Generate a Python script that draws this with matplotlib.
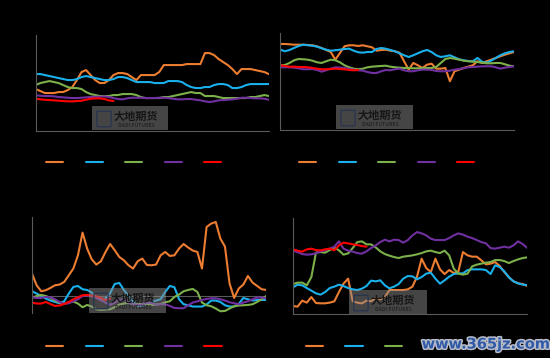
import matplotlib
matplotlib.use("Agg")
import matplotlib.pyplot as plt
import matplotlib.patheffects as pe
from matplotlib.patches import Rectangle, FancyBboxPatch

plt.rcParams['font.family'] = ['Noto Sans CJK SC', 'DejaVu Sans']

years = ["2019", "2020", "2021", "2022", "2023"]
colors = ["#ED7D31", "#1AB0EC", "#7CB04A", "#7030A0", "#FF0000"]
weeks = list(range(1, 53))

# panel 1 (top left)
p1_2019 = [42, 40, 38, 38, 38, 39, 39, 41, 44, 51, 59, 61, 56, 51, 48, 48, 51, 56, 58, 58,
           57, 54, 51, 56, 56, 56, 56, 59, 66, 66, 66, 66, 66, 67, 67, 67, 67, 78, 78, 76,
           72, 69, 66, 62, 57, 62, 62, 62, 61, 60, 59, 57]
p1_2020 = [57, 57, 56, 55, 54, 53, 52, 51, 51, 52, 54, 55, 54, 53, 52, 51, 51, 52, 54, 54,
           53, 51, 49, 49, 49, 49, 48, 48, 48, 50, 50, 50, 49, 46, 44, 43, 43, 44, 44, 46,
           47, 47, 46, 43, 43, 44, 46, 47, 47, 47, 47, 47]
p1_2021 = [46, 48, 49, 50, 49, 48, 46, 44, 43, 43, 42, 39, 37, 36, 35, 35, 35, 36, 36, 37,
           37, 37, 36, 34, 33, 33, 33, 33, 34, 34, 35, 36, 37, 38, 39, 38, 38, 35, 35, 35,
           34, 33, 33, 33, 33, 33, 33, 34, 34, 35, 36, 35]
p1_2022 = [35.7, 35.3, 35, 35, 34.7, 34, 33.7, 33.3, 33, 33, 33.3, 33.7, 34, 34.3, 34.3,
           34.7, 34, 33, 32, 31.7, 32.7, 33.3, 33.3, 33.3, 33, 33, 33, 33.3, 33.3, 33, 32.3,
           31.7, 31.7, 32, 32, 31.3, 30.7, 29.7, 29, 29.7, 30.7, 31, 31.3, 31.7, 32.3, 33.3,
           33.3, 33, 32.7, 32.7, 32.3, 31.3]
p1_2023 = [32.3, 31.7, 31.3, 31, 30.7, 30.3, 30, 29.7, 29.7, 30, 30.3, 31.3, 32.3, 32.7,
           32.7, 32, 30.7, 30]

# panel 2 (top right)
p2_2019 = [86, 86, 85.7, 85.3, 85.3, 85.3, 85, 84.7, 83.7, 82, 80, 78, 70.3, 77, 83.7, 84.7,
           84.7, 84, 84.7, 83.7, 82.7, 79.3, 80, 80.3, 79.3, 78.7, 77.3, 68.7, 60.3, 67, 64.7,
           62, 65.3, 66.3, 61.3, 61.3, 62, 48.7, 58.7, 60.3, 62, 63.3, 64.7, 68.7, 67, 68.7,
           70.3, 72, 73.7, 75.3, 76.7, 78]
p2_2020 = [80.3, 78.7, 80, 82, 84, 85.3, 84.7, 84.3, 83.3, 81.7, 80.3, 79.3, 79.7, 80.3, 81,
           81.3, 79.3, 77.7, 77.3, 78, 78, 81, 82, 81.3, 80, 78.7, 76.7, 74.7, 73, 74.7, 76.7,
           78.7, 80, 78, 74.7, 73, 73.7, 74.7, 72.7, 70.7, 69.7, 69, 68.7, 72, 68.3, 67.3,
           69.3, 72, 74.7, 76.7, 78, 78.7]
p2_2021 = [64.7, 65, 67, 69.7, 71, 70.7, 70.3, 69.3, 67.7, 67, 68.7, 70.3, 69.7, 67.7, 64.7,
           62.7, 61.3, 60.7, 61.3, 62.7, 63.3, 63.7, 64, 64.3, 63.3, 62.7, 62.3, 62, 62, 61.7,
           61.7, 62, 62, 62, 63, 67, 71, 72, 71.3, 70.3, 69.3, 68.7, 68.3, 68, 67.3, 66.7,
           66.7, 67, 67, 65.7, 64.3, 63.7]
p2_2022 = [62.7, 62.7, 62.7, 62.3, 61.7, 60.7, 60.7, 61, 60, 58.3, 59.7, 61.3, 62.7, 62.3, 62,
           61, 60.3, 59.7, 59.3, 58, 57, 57, 58.7, 60, 59.7, 60.7, 61.3, 59.7, 58.7, 58.7,
           59.7, 60.3, 60.3, 60, 59, 58.7, 58.7, 59.3, 60.3, 61, 61.7, 62.7, 63, 63.3, 63.7,
           63.7, 63.7, 62.7, 61.3, 62.3, 63, 63.7]
p2_2023 = [64.7, 64, 63.3, 63.3, 63, 63, 62.7, 62, 61.3, 60.7, 60.7, 61, 61.3, 61, 60.7, 60,
           59.7, 60]

# panel 3 (bottom left)
p3_2019 = [22.7, 11, 5, 6, 8.3, 11, 11.7, 14.3, 21, 27.7, 41, 63.7, 47.7, 37, 31.7, 35, 44.3,
           52.3, 46, 39.3, 36, 31, 27.7, 35, 37.7, 31.3, 31, 31.7, 41, 44.3, 40.3, 41, 47.7,
           52.3, 48.7, 45.7, 44.3, 27.7, 69.3, 72.7, 74.3, 57.7, 49.7, 12.7, -1.7, 7.7, 11.7,
           20.3, 13.7, 10.3, 7, 6.3]
p3_2020 = [5, 2.7, 0.3, -2.3, -4.3, -5.7, -7, -5, 2.7, 9.3, 10.3, 7, 6.3, 3.7, -1, -3, -2.3,
           3, 12.3, 13.3, 6.3, 0.3, -5.7, -9.7, -9.7, -7.7, -6, -4.3, -3, 4.3, 10.3, 9, -3,
           -8, -9, -10.3, -10.3, -10.3, -8.3, -4.3, -4.3, -5.7, -9, -10.3, -10.3, -7.7, -1.7,
           -3, -4.3, -3.7, -3.7, -3.7]
p3_2021 = [-1.7, 0.3, 1.3, 0.3, -1.7, -4.3, -6.3, -7.3, -6.3, -5.3, -7.3, -11, -8.7, -10.3,
           -13, -13.7, -13.3, -13, -11, -8.3, -7.3, -6.3, -8.3, -8, -7.3, -8, -8.7, -8.3,
           -7.7, -6, -5, -0.7, 1.7, 5, 6.3, 7.3, 4.3, -6.3, -9, -10, -12.3, -15, -14.7, -12.3,
           -10, -9.3, -9, -8.7, -8, -5.7, -3, 0.3]
p3_2022 = [-1, -1.7, -1.7, -0.7, -1, -3, -5.7, -7.7, -7, -5, -3, 0.3, 1, 0, -1.7, -4, -6.3,
           -8.7, -6.3, -3.7, -3, -6.3, -8, -8.7, -8.3, -6.3, -6.7, -8.3, -8, -8, -9.7, -11.7,
           -12, -12, -9, -6.3, -5, -3.7, -2.7, -2, -2, -3, -4.3, -6, -7, -8, -6.3, -5, -3,
           -1.3, -1.3, -2]
p3_2023 = [-6.3, -7.3, -7.3, -5.7, -7.7, -9.7, -9.3, -7.7, -5.7, -3, -1, 1, 1.3, 0.7, 0,
           -1.7, -3.7, -2.3]

# panel 4 (bottom right)
p4_2019 = [8.3, 7.7, 13.7, 11.7, 17.3, 11.3, 11, 11, 11.7, 13, 22.3, 30.7, 35.7, 13, 11.7, 11,
           13.7, 13, 16.3, 15, 17.3, 24.3, 24.3, 24.3, 24.3, 25, 27.7, 37.7, 55.7, 46.3, 42.3,
           55.7, 45, 40.3, 44.3, 41.3, 43, 62.3, 59, 57.7, 57.7, 54, 50, 50.7, 52.3, 48.3,
           42.3, 37, 33, 31, 30.3, 28.3]
p4_2020 = [27, 29.7, 29, 26.3, 23.7, 21, 19.7, 22.3, 26.3, 27.7, 29.7, 28.3, 26.3, 25, 24.3,
           25.7, 28.3, 33.7, 33, 34, 29, 26, 27.7, 30.3, 35.7, 38.3, 38, 35, 37.3, 40.7, 41.7,
           35.7, 30.7, 34, 37.7, 40.3, 41, 41, 44.3, 45, 45, 45, 44.3, 40.3, 49, 47.3, 43, 37,
           33, 31, 29.7, 29.3]
p4_2021 = [30.3, 31.7, 31.7, 29, 37.3, 61.7, 62.3, 61.7, 64.3, 67, 64, 59.7, 61, 66.3, 72.3,
           73, 70, 70, 67, 63, 60.3, 58.7, 57.3, 56.3, 57.7, 58.3, 59, 60, 61.3, 63, 63.7,
           62.3, 61.3, 63.7, 59, 45.7, 40.7, 39.7, 40.7, 48, 49.7, 50.7, 51.7, 52.3, 54.3,
           54.3, 53.3, 51.3, 53.3, 55, 56.3, 57]
p4_2022 = [63.7, 62.3, 60.3, 59.7, 60, 61, 63, 64.3, 65.7, 67.7, 73, 65.7, 63.7, 62.7, 61.3,
           60.7, 63, 66.3, 69, 72.3, 74.7, 73, 74.7, 74.3, 71.7, 74.3, 79, 82.3, 81, 79, 75.7,
           74.3, 74.3, 74.3, 76.3, 79, 81, 79.7, 77.7, 76.3, 74.3, 72.3, 71, 66.3, 65.7, 66.7,
           67.7, 66.7, 69, 73, 70.3, 66.3]
p4_2023 = [65, 63.7, 62.7, 65, 65.7, 64.3, 64, 65, 65.7, 64, 69, 71.7, 71, 70, 69.3, 68.3,
           67.7]

panels = [
    # series, axes rect, ylim, legend anchor, logo box (px)
    ([p1_2019, p1_2020, p1_2021, p1_2022, p1_2023], [0.065, 0.634, 0.424, 0.268],
     (0, 96), (0.044, -0.323), (92, 106, 76, 24)),
    ([p2_2019, p2_2020, p2_2021, p2_2022, p2_2023], [0.5097, 0.637, 0.425, 0.270],
     (0, 96.7), (0.08, -0.331), (336, 105, 77, 24)),
    ([p3_2019, p3_2020, p3_2021, p3_2022, p3_2023], [0.0582, 0.125, 0.426, 0.270],
     (-17, 79.7), (0.06, -0.338), (89, 288, 77, 25)),
    ([p4_2019, p4_2020, p4_2021, p4_2022, p4_2023], [0.5327, 0.122, 0.426, 0.268],
     (0, 96), (0.055, -0.33), (349, 290, 78, 24)),
]

W, H = 550, 358
fig = plt.figure(figsize=(5.5, 3.58), dpi=100, facecolor="black")

for i, (series, rect, ylim, leg_xy, logo) in enumerate(panels):
    ax = fig.add_axes(rect, facecolor="black")
    handles = []
    for vals, c, lab in zip(series, colors, years):
        h, = ax.plot(weeks[:len(vals)], vals, color=c, lw=1.5, label=lab,
                     solid_capstyle="round")
        handles.append(h)
    ax.set_xlim(1, 52)
    ax.set_ylim(*ylim)
    for s in ["top", "right"]:
        ax.spines[s].set_visible(False)
    ax.spines["left"].set_color("#5a5a5a")
    ax.spines["bottom"].set_color("#5a5a5a")
    ax.spines["left"].set_linewidth(0.8)
    ax.spines["bottom"].set_linewidth(0.8)
    if i == 2:
        # spread panel: zero line instead of a bottom spine, labels stay low
        ax.spines["bottom"].set_visible(False)
        ax.axhline(0, color="#5a5a5a", lw=0.8, zorder=0)
    ax.tick_params(length=0, colors="black", labelsize=6)
    ax.legend(handles=handles, loc="center left", bbox_to_anchor=leg_xy, ncol=5,
              frameon=False, fontsize=6, handlelength=2.05, handletextpad=0.3,
              columnspacing=0.2, borderaxespad=0, borderpad=0, labelcolor="black")

    # company logo watermark
    x, y, w, h = logo
    fig.patches.append(Rectangle((x / W, 1 - (y + h) / H), w / W, h / H,
                                 transform=fig.transFigure, facecolor="#8a8a8a",
                                 alpha=0.5, edgecolor="none", zorder=10))
    fig.patches.append(FancyBboxPatch(((x + 6) / W, 1 - (y + 20) / H), 12 / W, 14 / H,
                                      boxstyle="round,pad=0.002",
                                      transform=fig.transFigure, facecolor="none",
                                      edgecolor="#2a3550", lw=1.0, zorder=11))
    fig.text((x + 44) / W, 1 - (y + 10) / H, "大地期货", fontsize=8, color="#161616",
             ha="center", va="center", fontweight="bold", zorder=12)
    fig.text((x + 44) / W, 1 - (y + 19.5) / H, "DADI FUTURES", fontsize=3.6,
             color="#262626", ha="center", va="center", fontweight="bold", zorder=12)

fig.text(486 / W, 1 - 344 / H, "www.365jz.com", fontsize=10.5, color="#2f5aa8",
         fontweight="bold", ha="center", va="center", family="DejaVu Sans",
         path_effects=[pe.withStroke(linewidth=2.2, foreground="#b8bcc8")], zorder=20)

fig.savefig("out.png", dpi=100, facecolor="black")
